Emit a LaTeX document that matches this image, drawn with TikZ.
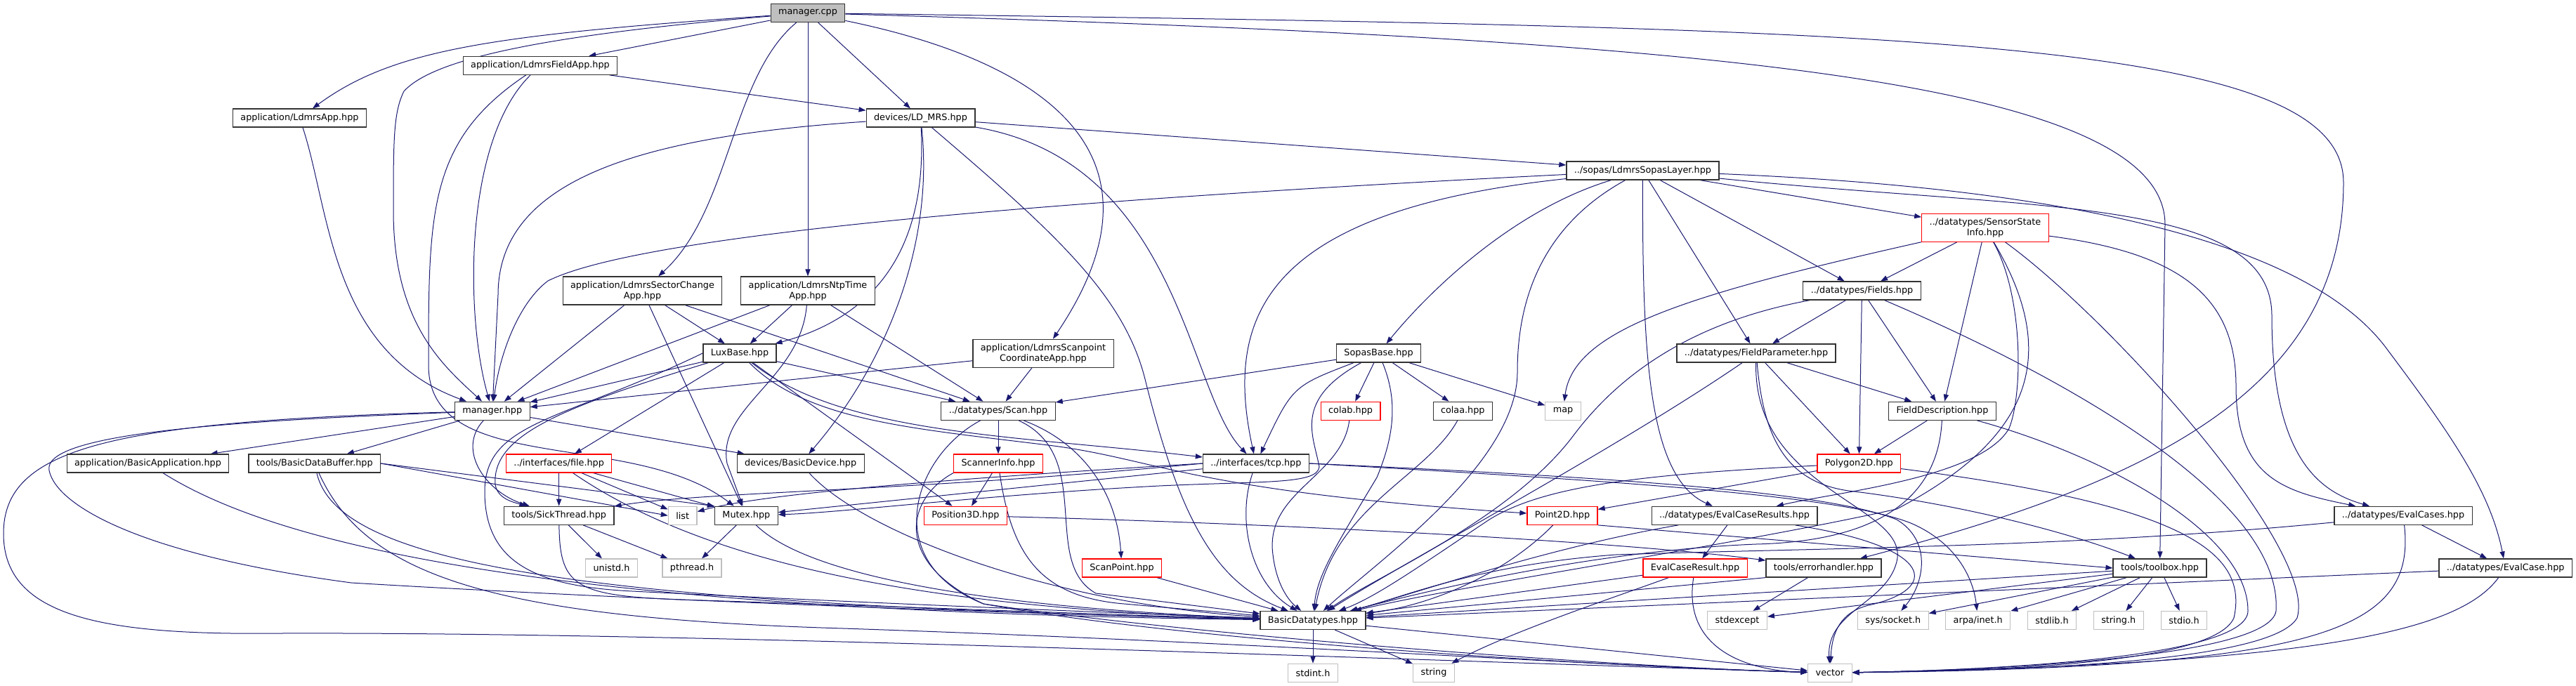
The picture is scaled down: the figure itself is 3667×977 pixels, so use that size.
\documentclass[tikz,border=0pt]{standalone}
\usepackage{fontspec}
\setmainfont{DejaVu Sans}
\usetikzlibrary{arrows.meta}
\definecolor{edgeblue}{HTML}{191970}
\definecolor{hdrgray}{HTML}{BFBFBF}
\pgfdeclarelayer{edges}
\pgfsetlayers{edges,main}

\begin{document}
\begin{tikzpicture}[x=0.75pt,y=-0.75pt,%
every node/.style={rectangle,draw=black!80,fill=white,line width=0.9pt,inner xsep=8.2pt,inner ysep=1pt,minimum height=19.5pt,align=center,font=\fontsize{9.6}{11.3}\selectfont},
twoline/.style={minimum height=30pt},
missing/.style={draw=red},
syshdr/.style={draw=hdrgray},
srcfile/.style={fill=hdrgray},
dep/.style={draw=edgeblue,line width=0.75pt,-{Triangle[length=7.5pt,width=5.4pt]}} ]
\useasboundingbox (0,0) rectangle (3667,977);

% files
\node[srcfile] (mcpp) at (1150,18.5) {manager.cpp};
\node (ldmrsapp) at (426.5,168) {application/LdmrsApp.hpp};
\node (fieldapp) at (769,93.3) {application/LdmrsFieldApp.hpp};
\node (ldmrs) at (1310.5,168) {devices/LD\_MRS.hpp};
\node (sopaslayer) at (2338.4,243) {../sopas/LdmrsSopasLayer.hpp};
\node[missing,twoline] (sensorstate) at (2826,324.3) {../datatypes/SensorState\\Info.hpp};
\node (fields) at (2650.5,414) {../datatypes/Fields.hpp};
\node[twoline] (sectorapp) at (914.5,414) {application/LdmrsSectorChange\\App.hpp};
\node[twoline] (ntpapp) at (1150,414) {application/LdmrsNtpTime\\App.hpp};
\node[twoline] (scanptapp) at (1485,503.3) {application/LdmrsScanpoint\\CoordinateApp.hpp};
\node (luxbase) at (1053,503) {LuxBase.hpp};
\node (sopasbase) at (1962.5,503) {SopasBase.hpp};
\node (fieldparam) at (2500,503) {../datatypes/FieldParameter.hpp};
\node (managerhpp) at (700.8,585.3) {manager.hpp};
\node (scan) at (1421,585.3) {../datatypes/Scan.hpp};
\node[missing] (colab) at (1922.6,585.3) {colab.hpp};
\node (colaa) at (2082.3,585.3) {colaa.hpp};
\node[syshdr] (map) at (2225,585.3) {map};
\node (fielddesc) at (2765,585.3) {FieldDescription.hpp};
\node (basicapp) at (210.5,660) {application/BasicApplication.hpp};
\node (databuffer) at (447.8,660) {tools/BasicDataBuffer.hpp};
\node[missing] (file) at (795.7,660) {../interfaces/file.hpp};
\node (basicdevice) at (1139.6,660) {devices/BasicDevice.hpp};
\node[missing] (scannerinfo) at (1421,660) {ScannerInfo.hpp};
\node (tcp) at (1787.9,660) {../interfaces/tcp.hpp};
\node[missing] (polygon) at (2646.3,660) {Polygon2D.hpp};
\node (sickthread) at (795.7,734.3) {tools/SickThread.hpp};
\node[syshdr] (list) at (971.7,734.3) {list};
\node (mutex) at (1062.4,734.3) {Mutex.hpp};
\node[missing] (position) at (1374.4,734.3) {Position3D.hpp};
\node[missing] (point) at (2224,734.3) {Point2D.hpp};
\node (evalresults) at (2469,734.3) {../datatypes/EvalCaseResults.hpp};
\node (evalcases) at (3421,734.3) {../datatypes/EvalCases.hpp};
\node[syshdr] (unistd) at (870.5,809) {unistd.h};
\node[syshdr] (pthread) at (985,809) {pthread.h};
\node[missing] (scanpoint) at (1597,809) {ScanPoint.hpp};
\node[missing] (evalresult) at (2413,809) {EvalCaseResult.hpp};
\node (errhandler) at (2596,809) {tools/errorhandler.hpp};
\node (toolbox) at (3074.5,809) {tools/toolbox.hpp};
\node (evalcase) at (3566.7,809) {../datatypes/EvalCase.hpp};
\node (datatypes) at (1869,883.5) {BasicDatatypes.hpp};
\node[syshdr] (stdexcept) at (2473,883.5) {stdexcept};
\node[syshdr] (socket) at (2694.8,883.5) {sys/socket.h};
\node[syshdr] (inet) at (2815.7,883.5) {arpa/inet.h};
\node[syshdr] (stdlib) at (2921,883.5) {stdlib.h};
\node[syshdr] (stringh) at (3015.7,883.5) {string.h};
\node[syshdr] (stdio) at (3109,883.5) {stdio.h};
\node[syshdr] (stdint) at (1869,958.3) {stdint.h};
\node[syshdr] (string) at (2041,958.3) {string};
\node[syshdr] (vector) at (2605,958.3) {vector};

\begin{pgfonlayer}{edges}
% manager.cpp
\draw[dep] (mcpp) .. controls (700,50) and (560,70) .. (ldmrsapp);
\draw[dep] (mcpp) .. controls (800,48) and (620,80) .. (575,130) .. controls (560,160) and (560,200) .. (560,300) .. controls (560,460) and (630,520) .. (managerhpp);
\draw[dep] (mcpp) -- (fieldapp);
\draw[dep] (mcpp) .. controls (1040,110) and (1040,300) .. (sectorapp);
\draw[dep] (mcpp) -- (ntpapp);
\draw[dep] (mcpp) -- (ldmrs);
\draw[dep] (mcpp) .. controls (1450,80) and (1690,200) .. (scanptapp);
\draw[dep] (mcpp) .. controls (2400,55) and (3082,110) .. (3082,320) -- (toolbox);
\draw[dep] (mcpp) .. controls (2700,40) and (3336,50) .. (3336,260) .. controls (3336,560) and (3050,690) .. (errhandler);
% application headers
\draw[dep] (ldmrsapp) .. controls (470,300) and (470,500) .. (managerhpp);
\draw[dep] (fieldapp) .. controls (660,200) and (662,450) .. (managerhpp);
\draw[dep] (fieldapp) .. controls (610,200) and (610,300) .. (610,520) .. controls (610,680) and (900,610) .. (mutex);
\draw[dep] (fieldapp) -- (ldmrs);
\draw[dep] (sectorapp) -- (managerhpp);
\draw[dep] (sectorapp) -- (mutex);
\draw[dep] (sectorapp) -- (luxbase);
\draw[dep] (sectorapp) -- (scan);
\draw[dep] (ntpapp) -- (managerhpp);
\draw[dep] (ntpapp) -- (luxbase);
\draw[dep] (ntpapp) .. controls (1140,540) and (1020,580) .. (1035,660) -- (mutex);
\draw[dep] (ntpapp) -- (scan);
\draw[dep] (scanptapp) -- (managerhpp);
\draw[dep] (scanptapp) -- (scan);
% devices/LD_MRS.hpp
\draw[dep] (ldmrs) .. controls (900,195) and (709,260) .. (709,420) -- (managerhpp);
\draw[dep] (ldmrs) .. controls (1320,350) and (1250,450) .. (luxbase);
\draw[dep] (ldmrs) .. controls (1330,350) and (1260,520) .. (basicdevice);
\draw[dep] (ldmrs) .. controls (1500,330) and (1600,420) .. (1630,540) .. controls (1680,740) and (1730,830) .. (datatypes);
\draw[dep] (ldmrs) -- (sopaslayer);
\draw[dep] (ldmrs) .. controls (1680,230) and (1690,560) .. (tcp);
% LuxBase.hpp
\draw[dep] (luxbase) -- (managerhpp);
\draw[dep] (luxbase.west) .. controls (800,600) and (690,600) .. (690,700) .. controls (690,800) and (760,835) .. (900,842) .. controls (1300,862) and (1650,875) .. (datatypes);
\draw[dep] (luxbase) .. controls (800,580) and (700,620) .. (705,690) .. controls (708,710) and (730,715) .. (sickthread);
\draw[dep] (luxbase) -- (file);
\draw[dep] (luxbase) -- (scan);
\draw[dep] (luxbase) .. controls (1200,620) and (1450,620) .. (tcp);
\draw[dep] (luxbase) .. controls (1150,600) and (1300,610) .. (1500,635) .. controls (1650,655) and (1700,700) .. (point);
\draw[dep] (luxbase) -- (position);
% ../sopas/LdmrsSopasLayer.hpp
\draw[dep] (sopaslayer) .. controls (1400,290) and (900,340) .. (780,400) .. controls (740,430) and (712,500) .. (managerhpp);
\draw[dep] (sopaslayer) .. controls (1800,300) and (1742,450) .. (tcp);
\draw[dep] (sopaslayer) .. controls (2150,300) and (2030,420) .. (sopasbase);
\draw[dep] (sopaslayer) .. controls (2180,330) and (2160,450) .. (2160,530) .. controls (2160,660) and (1960,800) .. (datatypes);
\draw[dep] (sopaslayer) .. controls (2338,500) and (2345,680) .. (evalresults);
\draw[dep] (sopaslayer) -- (fieldparam);
\draw[dep] (sopaslayer) -- (fields);
\draw[dep] (sopaslayer) -- (sensorstate);
\draw[dep] (sopaslayer) .. controls (3000,270) and (3300,360) .. (3400,500) .. controls (3490,620) and (3545,700) .. (evalcase);
\draw[dep] (sopaslayer) .. controls (2900,300) and (3234,280) .. (3234,450) .. controls (3234,650) and (3300,700) .. (evalcases);
% ../datatypes/SensorStateInfo.hpp
\draw[dep] (sensorstate) .. controls (2400,420) and (2240,470) .. (map);
\draw[dep] (sensorstate) -- (fields);
\draw[dep] (sensorstate) -- (fielddesc);
\draw[dep] (sensorstate) .. controls (2880,420) and (2880,560) .. (2860,610) .. controls (2820,680) and (2620,700) .. (evalresults);
\draw[dep] (sensorstate) .. controls (2930,500) and (2900,620) .. (2700,725) .. controls (2450,780) and (2100,830) .. (datatypes);
\draw[dep] (sensorstate) .. controls (3000,450) and (3300,780) .. (3270,880) .. controls (3230,950) and (2800,955) .. (vector);
\draw[dep] (sensorstate) .. controls (3100,360) and (3183,420) .. (3183,550) .. controls (3183,680) and (3250,700) .. (evalcases);
% ../datatypes/Fields.hpp
\draw[dep] (fields) .. controls (2400,460) and (2300,540) .. (2240,620) .. controls (2150,740) and (1960,820) .. (datatypes);
\draw[dep] (fields) -- (fieldparam);
\draw[dep] (fields) -- (polygon);
\draw[dep] (fields) -- (fielddesc);
\draw[dep] (fields) .. controls (2900,520) and (3250,700) .. (3240,870) .. controls (3230,940) and (2800,955) .. (vector);
% ../datatypes/FieldParameter.hpp
\draw[dep] (fieldparam) .. controls (2300,640) and (2000,800) .. (datatypes);
\draw[dep] (fieldparam) .. controls (2495,700) and (2720,720) .. (2700,800) .. controls (2685,860) and (2600,870) .. (vector);
\draw[dep] (fieldparam) -- (polygon);
\draw[dep] (fieldparam) -- (fielddesc);
\draw[dep] (fieldparam) .. controls (2510,620) and (2540,690) .. (2640,700) .. controls (2800,720) and (2950,760) .. (toolbox);
% FieldDescription.hpp, Polygon2D.hpp
\draw[dep] (fielddesc) -- (polygon);
\draw[dep] (fielddesc) .. controls (2760,690) and (2700,770) .. (2500,775) .. controls (2250,785) and (2000,850) .. (datatypes);
\draw[dep] (fielddesc) .. controls (3000,650) and (3200,760) .. (3200,870) .. controls (3200,940) and (2800,955) .. (vector);
\draw[dep] (polygon) -- (point);
\draw[dep] (polygon) .. controls (2350,675) and (2200,690) .. (2120,740) .. controls (2030,800) and (1960,850) .. (datatypes);
\draw[dep] (polygon) .. controls (3120,720) and (3200,790) .. (3180,880) .. controls (3150,950) and (2800,955) .. (vector);
% eval cases
\draw[dep] (evalresults) -- (evalresult);
\draw[dep] (evalresults) .. controls (2200,780) and (2000,850) .. (datatypes);
\draw[dep] (evalresults) .. controls (2760,780) and (2760,840) .. (2660,862) .. controls (2620,872) and (2608,900) .. (vector);
\draw[dep] (evalresult) -- (datatypes);
\draw[dep] (evalresult) .. controls (2300,850) and (2150,900) .. (string);
\draw[dep] (evalresult) .. controls (2395,920) and (2480,955) .. (vector);
\draw[dep] (evalcases) .. controls (2950,780) and (2600,780) .. (2300,790) .. controls (2100,805) and (2000,850) .. (datatypes);
\draw[dep] (evalcases) -- (evalcase);
\draw[dep] (evalcases) .. controls (3440,900) and (3300,950) .. (vector);
\draw[dep] (evalcase) -- (datatypes);
\draw[dep] (evalcase) .. controls (3500,900) and (3300,945) .. (vector);
% tools
\draw[dep] (toolbox) -- (datatypes);
\foreach \hdr in {stdexcept,socket,inet,stdlib,stringh,stdio}
  \draw[dep] (toolbox) -- (\hdr);
\draw[dep] (errhandler) -- (stdexcept);
\draw[dep] (errhandler.south west) -- (datatypes);
\draw[dep] (point.south east) -- (toolbox.west);
\draw[dep] (point) .. controls (2150,810) and (2050,860) .. (datatypes);
\draw[dep] (position) .. controls (1800,745) and (2300,770) .. (errhandler);
\draw[dep] (scanpoint) -- (datatypes);
% ScannerInfo.hpp, Scan.hpp
\draw[dep] (scannerinfo) -- (position);
\draw[dep] (scannerinfo) .. controls (1440,790) and (1480,850) .. (1600,860) -- (datatypes);
\draw[dep] (scannerinfo.south west) .. controls (1290,710) and (1270,800) .. (1400,860) .. controls (1700,905) and (2300,950) .. (vector);
\draw[dep] (scan) -- (scannerinfo);
\draw[dep] (scan) .. controls (1540,630) and (1590,700) .. (scanpoint);
\draw[dep] (scan) .. controls (1560,650) and (1480,800) .. (1560,845) -- (datatypes);
\draw[dep] (scan) .. controls (1300,650) and (1250,800) .. (1400,860) .. controls (1700,915) and (2300,950) .. (vector);
% threads and buffers
\draw[dep] (mutex) -- (pthread);
\draw[dep] (mutex) .. controls (1150,820) and (1400,865) .. (datatypes);
\draw[dep] (sickthread) .. controls (797,840) and (820,850) .. (1000,855) .. controls (1400,868) and (1650,878) .. (datatypes);
\draw[dep] (sickthread) -- (unistd);
\draw[dep] (sickthread) -- (pthread);
\draw[dep] (file) -- (sickthread);
\draw[dep] (file) -- (list);
\draw[dep] (file) -- (mutex);
\draw[dep] (file) .. controls (1000,800) and (1300,865) .. (datatypes);
\draw[dep] (databuffer.east) -- (list.west);
\draw[dep] (databuffer.east) -- (mutex.north west);
\draw[dep] (databuffer) .. controls (480,800) and (800,860) .. (datatypes);
\draw[dep] (databuffer) .. controls (520,820) and (700,880) .. (1200,895) .. controls (1800,915) and (2300,950) .. (vector);
\draw[dep] (basicapp) .. controls (400,780) and (800,870) .. (datatypes);
\draw[dep] (basicdevice) .. controls (1230,760) and (1500,860) .. (datatypes);
% manager.hpp
\draw[dep] (managerhpp) -- (basicapp);
\draw[dep] (managerhpp) -- (databuffer);
\draw[dep] (managerhpp) -- (basicdevice);
\draw[dep] (managerhpp) .. controls (650,640) and (690,700) .. (sickthread);
\draw[dep] (managerhpp) .. controls (300,600) and (60,620) .. (70,670) .. controls (80,720) and (200,790) .. (500,830) .. controls (1000,860) and (1600,878) .. (datatypes);
\draw[dep] (managerhpp) .. controls (150,600) and (5,640) .. (5,760) .. controls (5,880) and (150,905) .. (400,902) .. controls (1000,900) and (2000,940) .. (vector);
% SopasBase.hpp
\draw[dep] (sopasbase) -- (scan);
\draw[dep] (sopasbase) .. controls (1840,550) .. (tcp);
\draw[dep] (sopasbase) .. controls (1840,570) and (1870,620) .. (1878,665) .. controls (1875,690) and (1800,685) .. (1650,692) .. controls (1400,705) and (1200,730) .. (mutex);
\draw[dep] (sopasbase) -- (colab);
\draw[dep] (sopasbase) -- (colaa);
\draw[dep] (sopasbase) -- (map);
\draw[dep] (sopasbase) .. controls (1990,570) and (1985,620) .. (1960,680) .. controls (1900,780) and (1875,820) .. (datatypes);
\draw[dep] (colab) .. controls (1910,680) and (1800,700) .. (1812,790) .. controls (1818,840) and (1840,860) .. (datatypes);
\draw[dep] (colaa) .. controls (2030,680) and (1900,720) .. (datatypes);
% ../interfaces/tcp.hpp
\draw[dep] (tcp) .. controls (1760,740) and (1780,830) .. (datatypes);
\draw[dep] (tcp.west) .. controls (1300,700) and (1000,700) .. (sickthread);
\draw[dep] (tcp.west) .. controls (1300,685) and (1080,705) .. (list);
\draw[dep] (tcp) -- (mutex);
\draw[dep] (tcp.east) .. controls (2300,680) and (2600,700) .. (2700,740) .. controls (2750,770) and (2740,830) .. (socket);
\draw[dep] (tcp.east) .. controls (2300,685) and (2620,705) .. (2720,745) .. controls (2790,775) and (2810,830) .. (inet);
% BasicDatatypes.hpp
\draw[dep] (datatypes) -- (stdint);
\draw[dep] (datatypes) -- (string);
\draw[dep] (datatypes) -- (vector);
\end{pgfonlayer}
\end{tikzpicture}
\end{document}
